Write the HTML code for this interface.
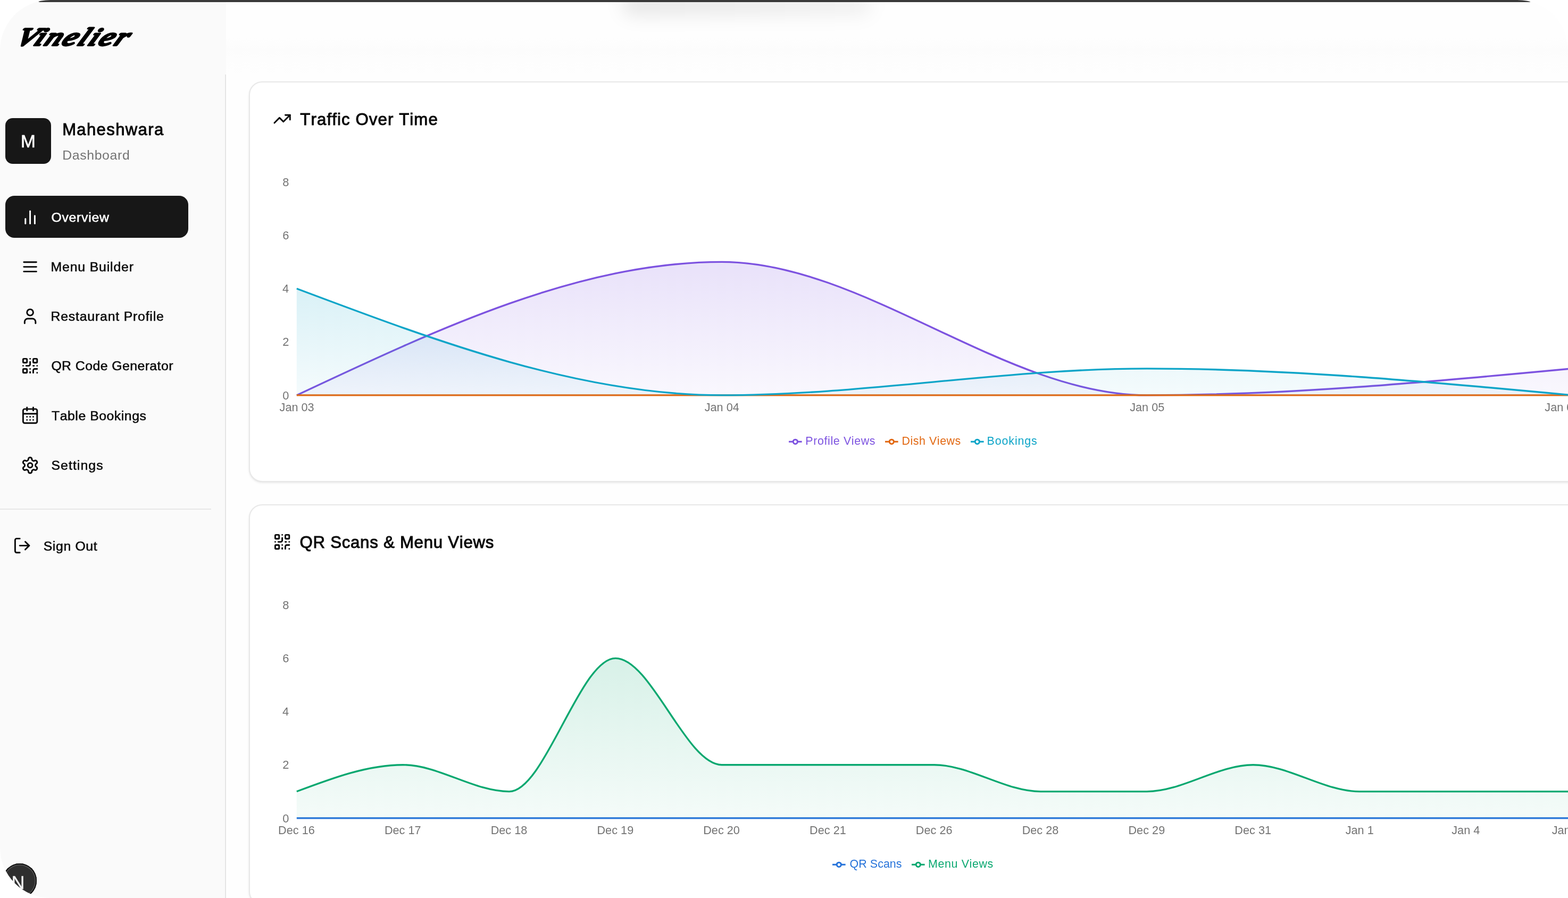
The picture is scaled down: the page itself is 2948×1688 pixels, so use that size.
<!DOCTYPE html>
<html lang="en"><head><meta charset="utf-8"><title>Vinelier Dashboard</title>
<style>
html,body{margin:0;padding:0}
html,body{width:2948px;height:1688px;overflow:hidden}
body{background:#fefefe;font-family:"Liberation Sans",Arial,sans-serif}
#app{position:relative;width:2948px;height:1688px;overflow:hidden;background:#fefefe}
.abs,.t,.ic{position:absolute}
.t{white-space:nowrap;font-kerning:none}
.card{position:absolute;box-sizing:border-box;background:#fff;border:2px solid #e8e8e8;border-radius:25px;box-shadow:0 2px 4.5px rgba(0,0,0,.07),0 1.5px 2.5px -1.5px rgba(0,0,0,.08)}
svg{overflow:visible}
.ax{font-family:"Liberation Sans",Arial,sans-serif;font-size:21.12px;fill:#737373}
</style></head><body><div id="app">
<div class="abs" style="left:0;top:0;width:425px;height:1688px;background:#fafafa"></div>
<div class="abs" style="left:423px;top:140px;width:1.8px;height:1548px;background:#e5e5e5"></div>
<main>
<section><div class="card" style="left:468px;top:153px;width:2520px;height:753px"></div>
<svg class="ic" style="left:513.20px;top:205.60px" width="35.2" height="35.2" viewBox="0 0 24 24" fill="none" stroke="#0a0a0a" stroke-width="2" stroke-linecap="round" stroke-linejoin="round"><polyline points="22 7 13.5 15.5 8.5 10.5 2 17"/><polyline points="16 7 22 7 22 13"/></svg>
<svg class="abs" style="left:0;top:0" width="2948" height="1688" viewBox="0 0 2948 1688"><defs>
<linearGradient id="ga0" x1="0" y1="0" x2="0" y2="1"><stop offset="5%" stop-color="#7d53e0" stop-opacity="0.165"/><stop offset="95%" stop-color="#7d53e0" stop-opacity="0.05"/></linearGradient>
<linearGradient id="ga1" x1="0" y1="0" x2="0" y2="1"><stop offset="5%" stop-color="#e26812" stop-opacity="0.16"/><stop offset="95%" stop-color="#e26812" stop-opacity="0.05"/></linearGradient>
<linearGradient id="ga2" x1="0" y1="0" x2="0" y2="1"><stop offset="5%" stop-color="#0ea5c8" stop-opacity="0.15"/><stop offset="95%" stop-color="#0ea5c8" stop-opacity="0.05"/></linearGradient>
</defs>
<path d="M557.80,742.90C824.23,617.65,1090.67,492.40,1357.10,492.40C1623.53,492.40,1889.97,742.90,2156.40,742.90C2422.83,742.90,2689.27,717.85,2955.70,692.80L2955.70,742.90 L557.80,742.90 Z" fill="url(#ga0)" stroke="none"/>
<path d="M557.80,742.90C824.23,617.65,1090.67,492.40,1357.10,492.40C1623.53,492.40,1889.97,742.90,2156.40,742.90C2422.83,742.90,2689.27,717.85,2955.70,692.80" fill="none" stroke="#7d53e0" stroke-width="3.35" stroke-linejoin="round"/>
<path d="M557.80,742.90C824.23,742.90,1090.67,742.90,1357.10,742.90C1623.53,742.90,1889.97,742.90,2156.40,742.90C2422.83,742.90,2689.27,742.90,2955.70,742.90" fill="none" stroke="#e26812" stroke-width="3.35" stroke-linejoin="round"/>
<path d="M557.80,542.50C824.23,642.70,1090.67,742.90,1357.10,742.90C1623.53,742.90,1889.97,692.80,2156.40,692.80C2422.83,692.80,2689.27,717.85,2955.70,742.90L2955.70,742.90 L557.80,742.90 Z" fill="url(#ga2)" stroke="none"/>
<path d="M557.80,542.50C824.23,642.70,1090.67,742.90,1357.10,742.90C1623.53,742.90,1889.97,692.80,2156.40,692.80C2422.83,692.80,2689.27,717.85,2955.70,742.90" fill="none" stroke="#0ea5c8" stroke-width="3.35" stroke-linejoin="round"/>
</svg>
<div class="t " style="left:531.13px;top:728.50px;font-size:21.80px;line-height:30px;color:#737373;">0</div>
<div class="t " style="left:531.37px;top:627.50px;font-size:21.80px;line-height:30px;color:#737373;">2</div>
<div class="t " style="left:530.91px;top:527.50px;font-size:21.80px;line-height:30px;color:#737373;">4</div>
<div class="t " style="left:531.23px;top:427.50px;font-size:21.80px;line-height:30px;color:#737373;">6</div>
<div class="t " style="left:531.22px;top:327.50px;font-size:21.80px;line-height:30px;color:#737373;">8</div>
<div class="t " style="left:525.55px;top:750.50px;font-size:21.60px;line-height:30px;color:#737373;letter-spacing:0.050px;">Jan 03</div>
<div class="t " style="left:1324.70px;top:750.50px;font-size:21.60px;line-height:30px;color:#737373;letter-spacing:0.050px;">Jan 04</div>
<div class="t " style="left:2124.13px;top:750.50px;font-size:21.60px;line-height:30px;color:#737373;letter-spacing:0.050px;">Jan 05</div>
<div class="t " style="left:2904.36px;top:750.50px;font-size:21.60px;line-height:30px;color:#737373;letter-spacing:0.050px;">Jan 06</div>
<svg class="ic" style="left:1482.90px;top:818.18px" width="24.64" height="24.64" viewBox="0 0 32 32"><path stroke-width="4" fill="none" stroke="#7d53e0" d="M0,16h10.666666666666666A5.333333333333333,5.333333333333333,0,1,1,21.333333333333332,16H32M21.333333333333332,16A5.333333333333333,5.333333333333333,0,1,1,10.666666666666666,16"/></svg>
<div class="t " style="left:1514.24px;top:814.00px;font-size:21.40px;line-height:30px;color:#7d53e0;letter-spacing:0.637px;">Profile Views</div>
<svg class="ic" style="left:1663.50px;top:818.18px" width="24.64" height="24.64" viewBox="0 0 32 32"><path stroke-width="4" fill="none" stroke="#e26812" d="M0,16h10.666666666666666A5.333333333333333,5.333333333333333,0,1,1,21.333333333333332,16H32M21.333333333333332,16A5.333333333333333,5.333333333333333,0,1,1,10.666666666666666,16"/></svg>
<div class="t " style="left:1695.44px;top:814.00px;font-size:21.40px;line-height:30px;color:#e26812;letter-spacing:0.565px;">Dish Views</div>
<svg class="ic" style="left:1824.70px;top:818.18px" width="24.64" height="24.64" viewBox="0 0 32 32"><path stroke-width="4" fill="none" stroke="#0ea5c8" d="M0,16h10.666666666666666A5.333333333333333,5.333333333333333,0,1,1,21.333333333333332,16H32M21.333333333333332,16A5.333333333333333,5.333333333333333,0,1,1,10.666666666666666,16"/></svg>
<div class="t " style="left:1855.54px;top:814.00px;font-size:21.40px;line-height:30px;color:#0ea5c8;letter-spacing:0.899px;">Bookings</div></section>
<section><div class="card" style="left:468px;top:948px;width:2520px;height:753px"></div>
<svg class="ic" style="left:513.20px;top:1000.60px" width="35.2" height="35.2" viewBox="0 0 24 24" fill="none" stroke="#0a0a0a" stroke-width="2" stroke-linecap="round" stroke-linejoin="round"><rect width="5" height="5" x="3" y="3" rx="1"/><rect width="5" height="5" x="16" y="3" rx="1"/><rect width="5" height="5" x="3" y="16" rx="1"/><path d="M21 16h-3a2 2 0 0 0-2 2v3"/><path d="M21 21v.01"/><path d="M12 7v3a2 2 0 0 1-2 2H7"/><path d="M3 12h.01"/><path d="M12 3h.01"/><path d="M12 16v.01"/><path d="M16 12h1"/><path d="M21 12v.01"/><path d="M12 21v-1"/></svg>
<svg class="abs" style="left:0;top:0" width="2948" height="1688" viewBox="0 0 2948 1688"><defs>
<linearGradient id="gb0" x1="0" y1="0" x2="0" y2="1"><stop offset="5%" stop-color="#2673da" stop-opacity="0.16"/><stop offset="95%" stop-color="#2673da" stop-opacity="0.05"/></linearGradient>
<linearGradient id="gb1" x1="0" y1="0" x2="0" y2="1"><stop offset="5%" stop-color="#0aa870" stop-opacity="0.155"/><stop offset="95%" stop-color="#0aa870" stop-opacity="0.05"/></linearGradient>
</defs>
<path d="M557.80,1537.90C624.40,1537.90,691.00,1537.90,757.60,1537.90C824.20,1537.90,890.80,1537.90,957.40,1537.90C1024.00,1537.90,1090.60,1537.90,1157.20,1537.90C1223.80,1537.90,1290.40,1537.90,1357.00,1537.90C1423.60,1537.90,1490.20,1537.90,1556.80,1537.90C1623.40,1537.90,1690.00,1537.90,1756.60,1537.90C1823.20,1537.90,1889.80,1537.90,1956.40,1537.90C2023.00,1537.90,2089.60,1537.90,2156.20,1537.90C2222.80,1537.90,2289.40,1537.90,2356.00,1537.90C2422.60,1537.90,2489.20,1537.90,2555.80,1537.90C2622.40,1537.90,2689.00,1537.90,2755.60,1537.90C2822.20,1537.90,2888.80,1537.90,2955.40,1537.90" fill="none" stroke="#2673da" stroke-width="3.35" stroke-linejoin="round"/>
<path d="M557.80,1487.80C624.40,1462.75,691.00,1437.70,757.60,1437.70C824.20,1437.70,890.80,1487.80,957.40,1487.80C1024.00,1487.80,1090.60,1237.30,1157.20,1237.30C1223.80,1237.30,1290.40,1437.70,1357.00,1437.70C1423.60,1437.70,1490.20,1437.70,1556.80,1437.70C1623.40,1437.70,1690.00,1437.70,1756.60,1437.70C1823.20,1437.70,1889.80,1487.80,1956.40,1487.80C2023.00,1487.80,2089.60,1487.80,2156.20,1487.80C2222.80,1487.80,2289.40,1437.70,2356.00,1437.70C2422.60,1437.70,2489.20,1487.80,2555.80,1487.80C2622.40,1487.80,2689.00,1487.80,2755.60,1487.80C2822.20,1487.80,2888.80,1487.80,2955.40,1487.80L2955.40,1537.90 L557.80,1537.90 Z" fill="url(#gb1)" stroke="none"/>
<path d="M557.80,1487.80C624.40,1462.75,691.00,1437.70,757.60,1437.70C824.20,1437.70,890.80,1487.80,957.40,1487.80C1024.00,1487.80,1090.60,1237.30,1157.20,1237.30C1223.80,1237.30,1290.40,1437.70,1357.00,1437.70C1423.60,1437.70,1490.20,1437.70,1556.80,1437.70C1623.40,1437.70,1690.00,1437.70,1756.60,1437.70C1823.20,1437.70,1889.80,1487.80,1956.40,1487.80C2023.00,1487.80,2089.60,1487.80,2156.20,1487.80C2222.80,1487.80,2289.40,1437.70,2356.00,1437.70C2422.60,1437.70,2489.20,1487.80,2555.80,1487.80C2622.40,1487.80,2689.00,1487.80,2755.60,1487.80C2822.20,1487.80,2888.80,1487.80,2955.40,1487.80" fill="none" stroke="#0aa870" stroke-width="3.35" stroke-linejoin="round"/>
</svg>
<div class="t " style="left:531.13px;top:1523.50px;font-size:21.80px;line-height:30px;color:#737373;">0</div>
<div class="t " style="left:531.37px;top:1422.50px;font-size:21.80px;line-height:30px;color:#737373;">2</div>
<div class="t " style="left:530.91px;top:1322.50px;font-size:21.80px;line-height:30px;color:#737373;">4</div>
<div class="t " style="left:531.23px;top:1222.50px;font-size:21.80px;line-height:30px;color:#737373;">6</div>
<div class="t " style="left:531.22px;top:1122.50px;font-size:21.80px;line-height:30px;color:#737373;">8</div>
<div class="t " style="left:523.04px;top:1545.50px;font-size:21.60px;line-height:30px;color:#737373;letter-spacing:0.050px;">Dec 16</div>
<div class="t " style="left:722.91px;top:1545.50px;font-size:21.60px;line-height:30px;color:#737373;letter-spacing:0.050px;">Dec 17</div>
<div class="t " style="left:922.64px;top:1545.50px;font-size:21.60px;line-height:30px;color:#737373;letter-spacing:0.050px;">Dec 18</div>
<div class="t " style="left:1122.48px;top:1545.50px;font-size:21.60px;line-height:30px;color:#737373;letter-spacing:0.050px;">Dec 19</div>
<div class="t " style="left:1322.19px;top:1545.50px;font-size:21.60px;line-height:30px;color:#737373;letter-spacing:0.050px;">Dec 20</div>
<div class="t " style="left:1522.10px;top:1545.50px;font-size:21.60px;line-height:30px;color:#737373;letter-spacing:0.050px;">Dec 21</div>
<div class="t " style="left:1721.84px;top:1545.50px;font-size:21.60px;line-height:30px;color:#737373;letter-spacing:0.050px;">Dec 26</div>
<div class="t " style="left:1921.64px;top:1545.50px;font-size:21.60px;line-height:30px;color:#737373;letter-spacing:0.050px;">Dec 28</div>
<div class="t " style="left:2121.48px;top:1545.50px;font-size:21.60px;line-height:30px;color:#737373;letter-spacing:0.050px;">Dec 29</div>
<div class="t " style="left:2321.30px;top:1545.50px;font-size:21.60px;line-height:30px;color:#737373;letter-spacing:0.050px;">Dec 31</div>
<div class="t " style="left:2529.64px;top:1545.50px;font-size:21.60px;line-height:30px;color:#737373;letter-spacing:0.050px;">Jan 1</div>
<div class="t " style="left:2729.23px;top:1545.50px;font-size:21.60px;line-height:30px;color:#737373;letter-spacing:0.050px;">Jan 4</div>
<div class="t " style="left:2917.66px;top:1545.50px;font-size:21.60px;line-height:30px;color:#737373;letter-spacing:0.050px;">Jan 5</div>
<svg class="ic" style="left:1565.10px;top:1613.18px" width="24.64" height="24.64" viewBox="0 0 32 32"><path stroke-width="4" fill="none" stroke="#2673da" d="M0,16h10.666666666666666A5.333333333333333,5.333333333333333,0,1,1,21.333333333333332,16H32M21.333333333333332,16A5.333333333333333,5.333333333333333,0,1,1,10.666666666666666,16"/></svg>
<div class="t " style="left:1597.59px;top:1609.00px;font-size:21.40px;line-height:30px;color:#2673da;letter-spacing:0.066px;">QR Scans</div>
<svg class="ic" style="left:1713.70px;top:1613.18px" width="24.64" height="24.64" viewBox="0 0 32 32"><path stroke-width="4" fill="none" stroke="#0aa870" d="M0,16h10.666666666666666A5.333333333333333,5.333333333333333,0,1,1,21.333333333333332,16H32M21.333333333333332,16A5.333333333333333,5.333333333333333,0,1,1,10.666666666666666,16"/></svg>
<div class="t " style="left:1745.04px;top:1609.00px;font-size:21.40px;line-height:30px;color:#0aa870;letter-spacing:0.641px;">Menu Views</div></section>
<div class="t " style="left:564.30px;top:202.50px;font-size:31.20px;line-height:44px;color:#0a0a0a;letter-spacing:1.103px;-webkit-text-stroke:1.0px #0a0a0a;">Traffic Over Time</div>
<div class="t " style="left:563.52px;top:997.50px;font-size:31.20px;line-height:44px;color:#0a0a0a;letter-spacing:0.737px;-webkit-text-stroke:1.0px #0a0a0a;">QR Scans &amp; Menu Views</div>
</main>
<header class="abs" style="left:425px;top:0;width:2523px;height:140px;background:linear-gradient(180deg,#fefefe 0,#fefefe 50%,#fcfcfc 68%,#fdfdfd 80%,#fefefe 100%)"></header>
<div class="abs" style="left:1170px;top:-14px;width:470px;height:44px;border-radius:22px;background:linear-gradient(90deg,rgba(0,0,0,.09),rgba(0,0,0,.05));filter:blur(16px)"></div>
<div class="abs" style="left:72px;top:0;width:2806px;height:3.5px;background:#3a3a3a;border-radius:0 0 3px 3px"></div>
<aside>
<svg class="abs" style="left:0;top:0" width="420" height="130" viewBox="0 0 420 130"><text id="logo" transform="translate(26.4,84.7) skewX(-28) scale(1.262,1)" x="0" y="0" font-family="'Liberation Serif',serif" font-style="italic" font-size="47" letter-spacing="2.5" fill="#000" stroke="#000" stroke-width="3.9" stroke-linejoin="round" stroke-linecap="round">Vinelier</text></svg>
<div class="abs" style="left:10px;top:222px;width:86px;height:86px;border-radius:14px;background:#171717"></div>
<div class="t " style="left:38.89px;top:242.50px;font-size:33.40px;line-height:46px;color:#fff;-webkit-text-stroke:0.6px #fff;">M</div>
<div class="t " style="left:117.13px;top:221.50px;font-size:31.00px;line-height:44px;color:#0a0a0a;letter-spacing:1.391px;-webkit-text-stroke:0.95px #0a0a0a;">Maheshwara</div>
<div class="t " style="left:117.17px;top:274.50px;font-size:24.80px;line-height:34px;color:#737373;letter-spacing:0.651px;">Dashboard</div>
<nav>
<div class="abs" style="left:10px;top:368.3px;width:344px;height:79.2px;border-radius:17px;background:#171717"></div>
<svg class="ic" style="left:38.80px;top:390.60px" width="35.2" height="35.2" viewBox="0 0 24 24" fill="none" stroke="#fff" stroke-width="2" stroke-linecap="round" stroke-linejoin="round"><path d="M18 20V10"/><path d="M12 20V4"/><path d="M6 20v-6"/></svg>
<div class="t " style="left:96.40px;top:391.50px;font-size:24.80px;line-height:34px;color:#fff;letter-spacing:0.744px;-webkit-text-stroke:0.55px #fff;">Overview</div>
<svg class="ic" style="left:38.80px;top:483.80px" width="35.2" height="35.2" viewBox="0 0 24 24" fill="none" stroke="#0a0a0a" stroke-width="2" stroke-linecap="round" stroke-linejoin="round"><path d="M4 6h16"/><path d="M4 12h16"/><path d="M4 18h16"/></svg>
<div class="t " style="left:95.54px;top:484.50px;font-size:24.80px;line-height:34px;color:#0a0a0a;letter-spacing:0.852px;-webkit-text-stroke:0.55px #0a0a0a;">Menu Builder</div>
<svg class="ic" style="left:38.80px;top:577.00px" width="35.2" height="35.2" viewBox="0 0 24 24" fill="none" stroke="#0a0a0a" stroke-width="2" stroke-linecap="round" stroke-linejoin="round"><path d="M19 21v-2a4 4 0 0 0-4-4H9a4 4 0 0 0-4 4v2"/><circle cx="12" cy="7" r="4"/></svg>
<div class="t " style="left:95.54px;top:577.50px;font-size:24.80px;line-height:34px;color:#0a0a0a;letter-spacing:0.811px;-webkit-text-stroke:0.55px #0a0a0a;">Restaurant Profile</div>
<svg class="ic" style="left:38.80px;top:670.20px" width="35.2" height="35.2" viewBox="0 0 24 24" fill="none" stroke="#0a0a0a" stroke-width="2" stroke-linecap="round" stroke-linejoin="round"><rect width="5" height="5" x="3" y="3" rx="1"/><rect width="5" height="5" x="16" y="3" rx="1"/><rect width="5" height="5" x="3" y="16" rx="1"/><path d="M21 16h-3a2 2 0 0 0-2 2v3"/><path d="M21 21v.01"/><path d="M12 7v3a2 2 0 0 1-2 2H7"/><path d="M3 12h.01"/><path d="M12 3h.01"/><path d="M12 16v.01"/><path d="M16 12h1"/><path d="M21 12v.01"/><path d="M12 21v-1"/></svg>
<div class="t " style="left:96.40px;top:670.50px;font-size:24.80px;line-height:34px;color:#0a0a0a;letter-spacing:0.444px;-webkit-text-stroke:0.55px #0a0a0a;">QR Code Generator</div>
<svg class="ic" style="left:38.80px;top:763.40px" width="35.2" height="35.2" viewBox="0 0 24 24" fill="none" stroke="#0a0a0a" stroke-width="2" stroke-linecap="round" stroke-linejoin="round"><path d="M8 2v4"/><path d="M16 2v4"/><rect width="18" height="18" x="3" y="4" rx="2"/><path d="M3 10h18"/><path d="M8 14h.01"/><path d="M12 14h.01"/><path d="M16 14h.01"/><path d="M8 18h.01"/><path d="M12 18h.01"/><path d="M16 18h.01"/></svg>
<div class="t " style="left:97.02px;top:764.50px;font-size:24.80px;line-height:34px;color:#0a0a0a;letter-spacing:0.535px;-webkit-text-stroke:0.55px #0a0a0a;">Table Bookings</div>
<svg class="ic" style="left:38.80px;top:856.60px" width="35.2" height="35.2" viewBox="0 0 24 24" fill="none" stroke="#0a0a0a" stroke-width="2" stroke-linecap="round" stroke-linejoin="round"><path d="M12.22 2h-.44a2 2 0 0 0-2 2v.18a2 2 0 0 1-1 1.73l-.43.25a2 2 0 0 1-2 0l-.15-.08a2 2 0 0 0-2.73.73l-.22.38a2 2 0 0 0 .73 2.73l.15.1a2 2 0 0 1 1 1.72v.51a2 2 0 0 1-1 1.74l-.15.09a2 2 0 0 0-.73 2.73l.22.38a2 2 0 0 0 2.73.73l.15-.08a2 2 0 0 1 2 0l.43.25a2 2 0 0 1 1 1.73V20a2 2 0 0 0 2 2h.44a2 2 0 0 0 2-2v-.18a2 2 0 0 1 1-1.73l.43-.25a2 2 0 0 1 2 0l.15.08a2 2 0 0 0 2.73-.73l.22-.39a2 2 0 0 0-.73-2.73l-.15-.08a2 2 0 0 1-1-1.74v-.5a2 2 0 0 1 1-1.74l.15-.09a2 2 0 0 0 .73-2.73l-.22-.38a2 2 0 0 0-2.73-.73l-.15.08a2 2 0 0 1-2 0l-.43-.25a2 2 0 0 1-1-1.73V4a2 2 0 0 0-2-2z"/><circle cx="12" cy="12" r="3"/></svg>
<div class="t " style="left:96.45px;top:857.50px;font-size:24.80px;line-height:34px;color:#0a0a0a;letter-spacing:1.080px;-webkit-text-stroke:0.55px #0a0a0a;">Settings</div>
</nav>
<div class="abs" style="left:0;top:956px;width:397px;height:2px;background:#e7e7e7"></div>
<svg class="ic" style="left:24.20px;top:1007.90px" width="35.2" height="35.2" viewBox="0 0 24 24" fill="none" stroke="#0a0a0a" stroke-width="2" stroke-linecap="round" stroke-linejoin="round"><path d="M9 21H5a2 2 0 0 1-2-2V5a2 2 0 0 1 2-2h4"/><polyline points="16 17 21 12 16 7"/><line x1="21" x2="9" y1="12" y2="12"/></svg>
<div class="t " style="left:81.65px;top:1009.50px;font-size:24.80px;line-height:34px;color:#0a0a0a;letter-spacing:0.651px;-webkit-text-stroke:0.55px #0a0a0a;">Sign Out</div>
</aside>
<div class="abs" style="left:4.6px;top:1623.2px;width:64.4px;height:64.4px;border-radius:50%;background:#2f2f2f;box-shadow:inset 0 0 0 2px #111, inset 0 0 0 3.5px #555"></div>
<div class="t " style="left:21.53px;top:1635.00px;font-size:34.50px;line-height:48px;color:#f4f4f4;-webkit-text-stroke:0.3px #f4f4f4;">N</div>
<svg class="abs" style="left:0;top:0" width="96" height="96" viewBox="0 0 96 96"><path d="M0,0H95A95,95 0 0 0 0,95Z" fill="#fff"/></svg>
<svg class="abs" style="left:0;top:1592px" width="96" height="96" viewBox="0 0 96 96"><path d="M0,96H95A95,95 0 0 1 0,1Z" fill="#fff"/></svg>
<svg class="abs" style="left:2852px;top:0" width="96" height="96" viewBox="0 0 96 96"><path d="M96,0H1A95,95 0 0 1 96,95Z" fill="#fff"/></svg>
<svg class="abs" style="left:2852px;top:1592px" width="96" height="96" viewBox="0 0 96 96"><path d="M96,96H1A95,95 0 0 0 96,1Z" fill="#fff"/></svg>
</div></body></html>
